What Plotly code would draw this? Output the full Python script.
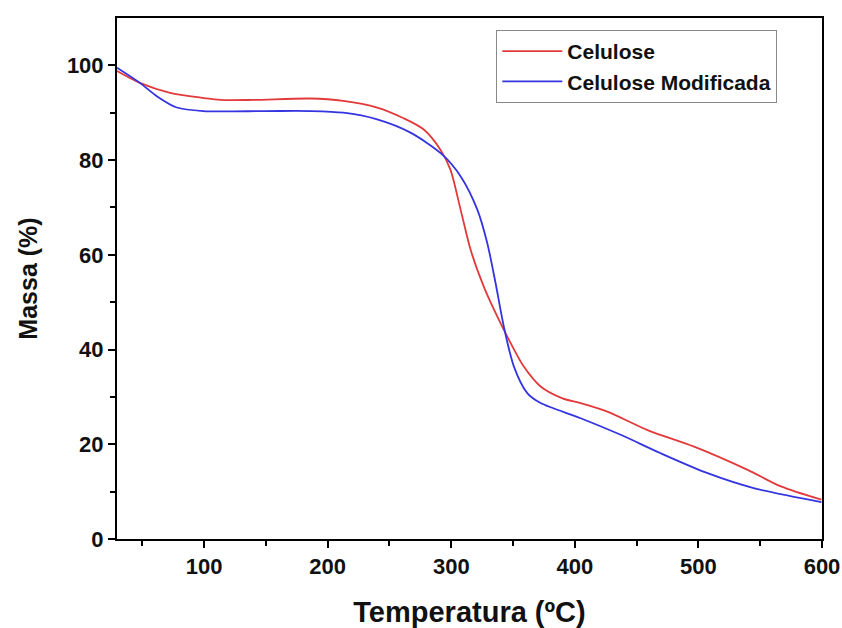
import plotly.graph_objects as go

temp_cel = [29.5, 48, 72.4, 100, 113, 139.7, 186, 212.6, 240, 261, 277.5, 291.2, 299.3, 307.5,
            315.6, 326.3, 337.2, 346.6, 358.7, 372.3, 390, 404.7, 426.3, 458.8, 496.5, 539.8, 566.8, 599.5]
massa_cel = [98.8, 96.3, 94.2, 93.1, 92.7, 92.7, 93.0, 92.5, 91.1, 88.9, 86.5, 82.2, 78.0, 69.6,
             61.1, 53.3, 47.0, 42.1, 36.4, 32.2, 29.7, 28.7, 26.9, 23.0, 19.5, 14.6, 11.1, 8.3]

temp_mod = [29.5, 48, 61.7, 77.9, 99.2, 150, 186, 212.6, 240, 267, 292.6, 307.5, 321, 329.1,
            335.8, 342.5, 350.7, 361.5, 372.3, 404.7, 437.1, 469.5, 507.4, 545.4, 599.5]
massa_mod = [99.5, 96.3, 93.5, 91.1, 90.35, 90.35, 90.35, 90.0, 88.6, 85.8, 81.2, 76.6, 69.6, 62.5,
             54.1, 44.9, 36.4, 30.8, 28.7, 25.5, 22.0, 18.1, 13.9, 10.7, 7.8]

x_ticks = [100, 200, 300, 400, 500, 600]
y_ticks = [0, 20, 40, 60, 80, 100]

fig = go.Figure()
fig.add_trace(go.Scatter(x=temp_cel, y=massa_cel, mode="lines", name="Celulose",
                         line=dict(color="#E23A3A", width=1.8, shape="spline", smoothing=0.8)))
fig.add_trace(go.Scatter(x=temp_mod, y=massa_mod, mode="lines", name="Celulose Modificada",
                         line=dict(color="#3434E0", width=1.8, shape="spline", smoothing=0.8)))

font_family = "Liberation Sans, Arial, sans-serif"
axis_common = dict(showline=True, linecolor="black", linewidth=2, mirror=True,
                   ticks="outside", ticklen=7, tickwidth=2, tickcolor="black",
                   showgrid=False, zeroline=False, automargin=False,
                   tickfont=dict(family=font_family, size=22, color="#111111", weight="bold"))

fig.update_layout(
    width=842, height=628,
    margin=dict(l=117, r=20, t=18, b=89),
    paper_bgcolor="white", plot_bgcolor="white",
    font=dict(family=font_family, color="#111111"),
    xaxis=dict(range=[29.5, 600], tickvals=x_ticks, ticktext=[str(v) for v in x_ticks],
               title=dict(text="Temperatura (ºC)", font=dict(family=font_family, size=29, weight="bold"),
                          standoff=24),
               minor=dict(tickvals=[50, 150, 250, 350, 450, 550], ticklen=5, tickwidth=2,
                          tickcolor="black", ticks="outside"),
               **axis_common),
    yaxis=dict(range=[0, 110], tickvals=y_ticks, ticktext=[str(v) for v in y_ticks],
               title=dict(text="Massa (%)", font=dict(family=font_family, size=25, weight="bold"),
                          standoff=22),
               minor=dict(tickvals=[10, 30, 50, 70, 90], ticklen=5, tickwidth=2,
                          tickcolor="black", ticks="outside"),
               **axis_common),
    legend=dict(x=0.538, y=0.977, xanchor="left", yanchor="top",
                bgcolor="white", bordercolor="#888888", borderwidth=1,
                font=dict(family=font_family, size=21, weight="bold", color="#111111"),
                tracegroupgap=0, itemwidth=60),
    showlegend=True,
)

fig.write_html("out.html")
